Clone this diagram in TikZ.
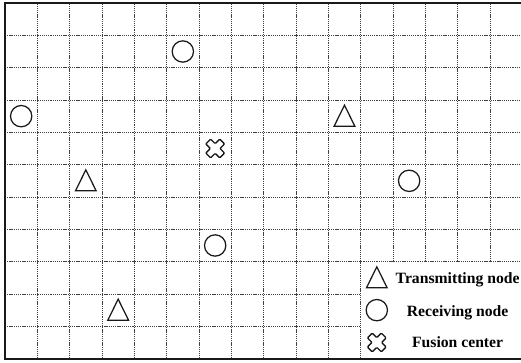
\documentclass[tikz,border=0pt]{standalone}
\usepackage{fontspec}
\setmainfont{Liberation Serif}
\usepackage{xcolor}
\usepackage{tikz}

\begin{document}
\begin{tikzpicture}[
  gridline/.style={black!75, line width=0.5pt, dash pattern=on 1.1pt off 0.8pt},
  frame/.style={black!90, line width=2pt},
  sym/.style={black!90, line width=1.1pt},
  rx/.style={circle, draw=black!90, line width=1.1pt, minimum size=0.66cm, inner sep=0pt},
  tx/.style={minimum size=0.9cm, inner sep=0pt, path picture={
    \draw[sym, shift={(path picture bounding box.center)}] (0,0.34) -- (0.32,-0.31) -- (-0.32,-0.31) -- cycle;}},
  fc/.style={minimum size=0.9cm, inner sep=0pt, path picture={
    \draw[sym, line width=1.2pt, rounded corners=0.8pt, shift={(path picture bounding box.center)}]
      (0,0.15) -- (0.14,0.29) -- (0.29,0.14) -- (0.15,0) -- (0.29,-0.14) -- (0.14,-0.29)
      -- (0,-0.15) -- (-0.14,-0.29) -- (-0.29,-0.14) -- (-0.15,0) -- (-0.29,0.14) -- (-0.14,0.29) -- cycle;}},
  legtext/.style={anchor=base, font=\fontsize{13.8}{16}\selectfont\bfseries},
]
\useasboundingbox (-0.155,-0.108) rectangle (15.96,11.093);

% dotted grid, left open where the legend sits
\draw[gridline] (0,3) grid (16,11);
\draw[gridline] (0,0) grid (11,3);
\draw[frame] (0,0) rectangle (16,11);

% sensor field
\node[rx] (rx1) at (5.5,9.5) {};
\node[rx] (rx2) at (0.5,7.5) {};
\node[tx] (tx1) at (10.5,7.5) {};
\node[fc] (fc)  at (6.5,6.5) {};
\node[tx] (tx2) at (2.5,5.5) {};
\node[rx] (rx3) at (12.5,5.5) {};
\node[rx] (rx4) at (6.5,3.5) {};
\node[tx] (tx3) at (3.5,1.5) {};

% legend
\node[tx] (legtx) at (11.5,2.5) {};
\node[rx] (legrx) at (11.5,1.5) {};
\node[fc] (legfc) at (11.5,0.5) {};
\node[legtext] (legtxtext) at (14,2.33) {Transmitting node};
\node[legtext] (legrxtext) at (14,1.30) {Receiving node};
\node[legtext] (legfctext) at (14,0.35) {Fusion center};

\end{tikzpicture}
\end{document}
